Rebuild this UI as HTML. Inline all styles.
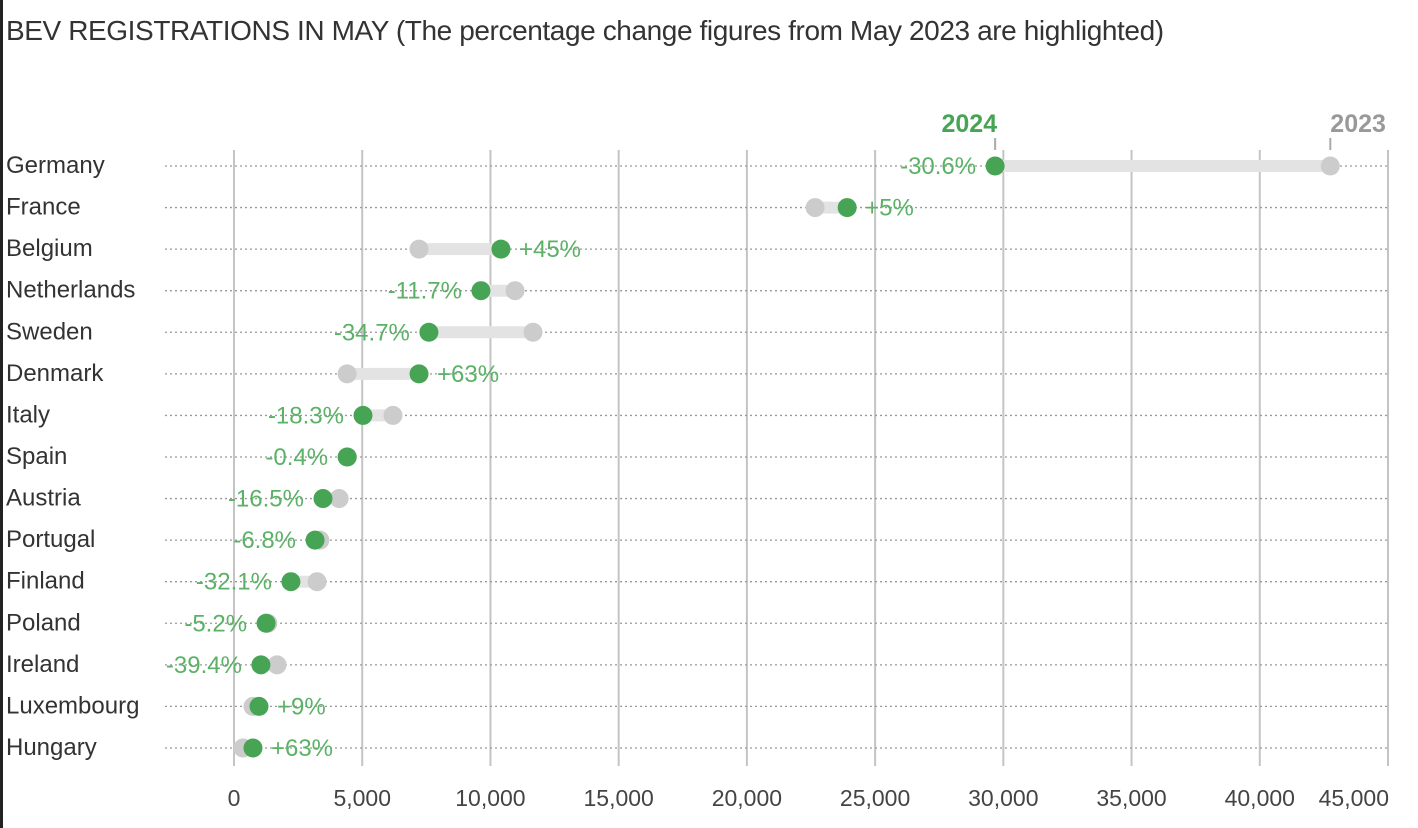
<!DOCTYPE html>
<html><head><meta charset="utf-8"><style>
body{margin:0;background:#fff;width:1418px;height:828px;overflow:hidden;font-family:"Liberation Sans",sans-serif}
</style></head><body>
<div style="position:absolute;left:0;top:0;width:3px;height:828px;background:#222"></div>
<div style="position:absolute;left:6px;top:15px;font-size:28px;color:#333;letter-spacing:-0.4px">BEV REGISTRATIONS IN MAY (The percentage change figures from May 2023 are highlighted)</div>
<svg id="chart" width="1418" height="828" style="position:absolute;left:0;top:0"></svg>
<script>
const countries=["Germany","France","Belgium","Netherlands","Sweden","Denmark","Italy","Spain","Austria","Portugal","Finland","Poland","Ireland","Luxembourg","Hungary"];
const v2023=[42750,22660,7215,10960,11660,4410,6200,4430,4100,3350,3240,1320,1680,740,350];
const v2024=[29680,23910,10410,9630,7600,7215,5030,4410,3470,3160,2220,1250,1050,975,740];
const pctLabels=["-30.6%","+5%","+45%","-11.7%","-34.7%","+63%","-18.3%","-0.4%","-16.5%","-6.8%","-32.1%","-5.2%","-39.4%","+9%","+63%"];
const ticks=[0,5000,10000,15000,20000,25000,30000,35000,40000,45000];
const NS="http://www.w3.org/2000/svg",svg=document.getElementById('chart');
const x=v=>234+v*(1388-234)/45000;
const y=i=>166+i*41.57;
function mk(t,a,p){const e=document.createElementNS(NS,t);for(const k in a)e.setAttribute(k,a[k]);(p||svg).appendChild(e);return e;}
ticks.forEach((t,i)=>{
 const l=mk('line',{x1:x(t),x2:x(t),y1:150,y2:766,stroke:'#c4c4c4','stroke-width':2});
 
 
 const last=i===ticks.length-1;
 const tx=mk('text',{x:last?x(t)+1:x(t),y:806,'text-anchor':last?'end':'middle','font-size':23,fill:'#444'});
 tx.textContent=t.toLocaleString('en-US');
 
 
});
countries.forEach((c,i)=>{
 const yy=y(i);
 const dl=mk('line',{x1:165,x2:1388,y1:yy,y2:yy,stroke:'#999','stroke-width':1.3,'stroke-dasharray':'2 3'});
 
 
 const lb=mk('text',{x:6,y:yy+7,'font-size':24,fill:'#333'});
 lb.textContent=c;
 
 
 const bar=mk('line',{x1:x(v2023[i]),x2:x(v2024[i]),y1:yy,y2:yy,stroke:'#e3e3e3','stroke-width':12});
 
 
 const d3=mk('circle',{cx:x(v2023[i]),cy:yy,r:9.5,fill:'#cccccc'});
 
 
 const d4=mk('circle',{cx:x(v2024[i]),cy:yy,r:9.5,fill:'#47a455'});
 
 
 const up=v2024[i]>=v2023[i];
 const pt=mk('text',{x:up?x(v2024[i])+18:x(v2024[i])-19,y:yy+8,'font-size':24,fill:'#5bb166','text-anchor':up?'start':'end'});
 pt.textContent=pctLabels[i];
 
 
});
[[v2024[0],'2024','#47a455','end',2],[v2023[0],'2023','#999','start',0]].forEach(([v,t,col,anc,dx])=>{
 const tk=mk('line',{x1:x(v),x2:x(v),y1:138,y2:150,stroke:'#aaa','stroke-width':2});
 
 
 const tx=mk('text',{x:x(v)+dx,y:132,'font-size':25,'font-weight':'bold',fill:col,'text-anchor':anc});
 tx.textContent=t;
 
 
});
</script>
</body></html>
